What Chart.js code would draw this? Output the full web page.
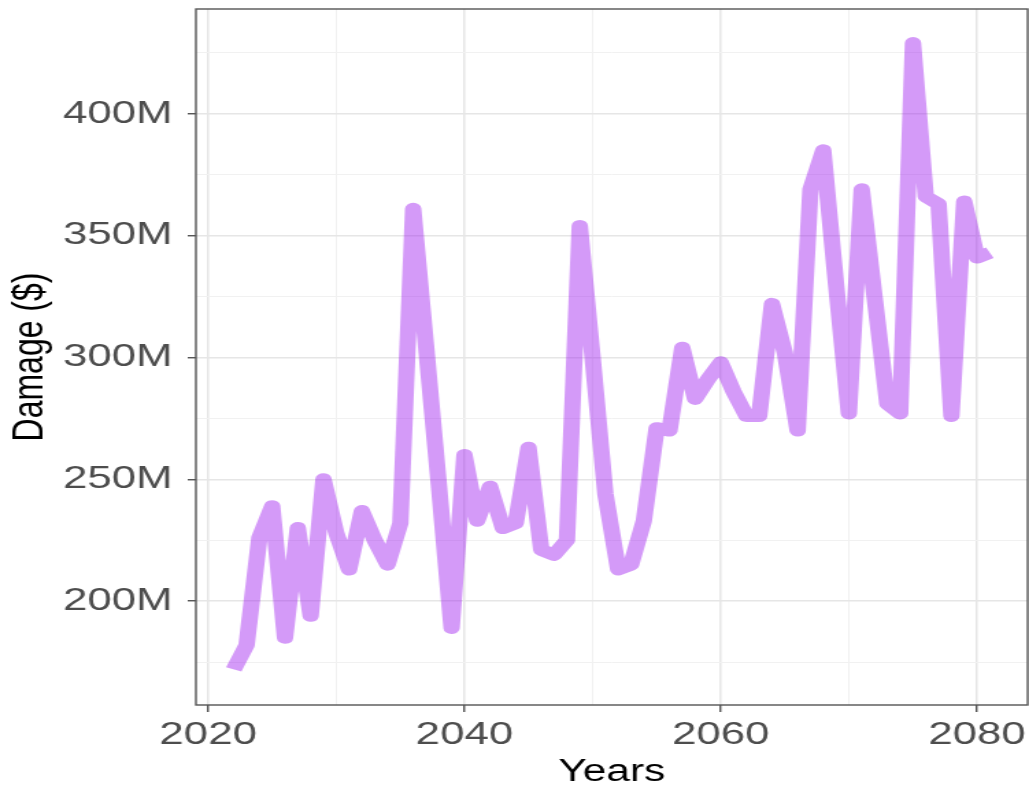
<!DOCTYPE html>
<html>
<head>
<meta charset="utf-8">
<script src="https://cdn.jsdelivr.net/npm/chart.js@4.4.1/dist/chart.umd.min.js"></script>
<style>
    html, body { margin: 0; padding: 0; background: #fff; overflow: hidden; }
    /* the original picture is stretched sideways, so we stretch too */
    #wrap { width: 751px; height: 788px; transform: scaleX(1.3702); transform-origin: 0 0; }
</style>
</head>
<body>
<div id="wrap"><canvas id="chart-area" width="751" height="788"></canvas></div>
<script>
const anos = [2022, 2023, 2024, 2025, 2026, 2027, 2028, 2029, 2030, 2031,
              2032, 2033, 2034, 2035, 2036, 2037, 2038, 2039, 2040, 2041,
              2042, 2043, 2044, 2045, 2046, 2047, 2048, 2049, 2050, 2051,
              2052, 2053, 2054, 2055, 2056, 2057, 2058, 2059, 2060, 2061,
              2062, 2063, 2064, 2065, 2066, 2067, 2068, 2069, 2070, 2071,
              2072, 2073, 2074, 2075, 2076, 2077, 2078, 2079, 2080, 2081];

// damage in millions of $
const danoMilhoes = [172, 182, 226, 239, 185, 230, 194, 250, 228, 213,
                     237, 225, 215, 232, 361, 305, 248, 189, 260, 233,
                     247, 230, 232, 263, 221, 219, 225, 354, 300, 244,
                     213, 215, 233, 271, 270, 304, 283, 291, 298, 286,
                     276, 276, 322, 302, 270, 369, 385, 330, 277, 369,
                     325, 281, 277, 429, 366, 363, 276, 364, 341, 343];

const gradeX = [2020, 2030, 2040, 2050, 2060, 2070, 2080];
const rotulosX = [2020, 2040, 2060, 2080];
const gradeY = [175, 200, 225, 250, 275, 300, 325, 350, 375, 400, 425];
const rotulosY = [200, 250, 300, 350, 400];

function ehMaior(ctx, lista) {
    return ctx.tick && lista.includes(ctx.tick.value);
}

// ggplot style grid: major lines + thinner minor lines
function opcoesGrade(lista, tamanhoTick) {
    return {
        color: ctx => ehMaior(ctx, lista) ? '#e6e6e6' : '#f1f1f1',
        lineWidth: ctx => ehMaior(ctx, lista) ? 1.5 : 1,
        tickColor: ctx => ehMaior(ctx, lista) ? '#444444' : 'rgba(0,0,0,0)',
        tickWidth: 1.3,
        tickLength: tamanhoTick
    };
}

// fixed box sizes, no extra room for label overhang
function fixarTamanho(scale, largura, altura) {
    if (largura) scale.width = largura;
    if (altura) scale.height = altura;
    scale.paddingTop = 0;
    scale.paddingBottom = 0;
    scale.paddingLeft = 0;
    scale.paddingRight = 0;
}

// panel border drawn over the line, like theme_bw
const bordaPainel = {
    id: 'bordaPainel',
    afterDraw(chart) {
        const { ctx, chartArea: a } = chart;
        ctx.save();
        ctx.strokeStyle = '#555555';
        ctx.lineWidth = 1.4;
        ctx.strokeRect(a.left, a.top, a.right - a.left, a.bottom - a.top);
        ctx.restore();
    }
};

function gerarGrafico() {
    const fonte = '"Liberation Sans", Arial, sans-serif';
    let pontos = anos.map((ano, i) => ({ x: ano, y: danoMilhoes[i] }));

    let config = {
        type: 'line',
        data: {
            datasets: [{
                data: pontos,
                borderColor: 'rgba(160, 32, 240, 0.45)',
                borderWidth: 12,
                borderJoinStyle: 'round',
                borderCapStyle: 'butt',
                pointRadius: 0,
                tension: 0,
                fill: false
            }]
        },
        options: {
            responsive: false,
            animation: false,
            layout: { padding: { top: 9, right: 1, bottom: 0, left: 0 } },
            plugins: {
                legend: { display: false },
                tooltip: { enabled: false }
            },
            scales: {
                x: {
                    type: 'linear',
                    min: 2019.05,
                    max: 2083.95,
                    afterBuildTicks: scale => { scale.ticks = gradeX.map(v => ({ value: v })); },
                    afterFit: scale => fixarTamanho(scale, 0, 83),
                    grid: opcoesGrade(rotulosX, 7),
                    border: { display: false },
                    ticks: {
                        autoSkip: false,
                        maxRotation: 0,
                        minRotation: 0,
                        padding: 4,
                        color: '#4d4d4d',
                        font: { family: fonte, size: 32 },
                        callback: v => rotulosX.includes(v) ? String(v) : ''
                    },
                    title: {
                        display: true,
                        text: 'Years',
                        color: '#000',
                        padding: { top: 0, bottom: 0 },
                        font: { family: fonte, size: 31, lineHeight: 1 }
                    }
                },
                y: {
                    min: 157.4,
                    max: 443,
                    afterBuildTicks: scale => { scale.ticks = gradeY.map(v => ({ value: v })); },
                    afterFit: scale => fixarTamanho(scale, 143, 0),
                    grid: opcoesGrade(rotulosY, 6),
                    border: { display: false },
                    ticks: {
                        padding: 11,
                        color: '#4d4d4d',
                        font: { family: fonte, size: 32 },
                        callback: v => rotulosY.includes(v) ? v + 'M' : ''
                    },
                    title: {
                        display: true,
                        text: 'Damage ($)',
                        color: '#000',
                        padding: { top: 6, bottom: 0 },
                        font: { family: fonte, size: 32, lineHeight: 1 }
                    }
                }
            }
        },
        plugins: [bordaPainel]
    };

    let ctx = document.getElementById('chart-area').getContext('2d');
    window.grafico = new Chart(ctx, config);
}

gerarGrafico();
</script>
</body>
</html>
